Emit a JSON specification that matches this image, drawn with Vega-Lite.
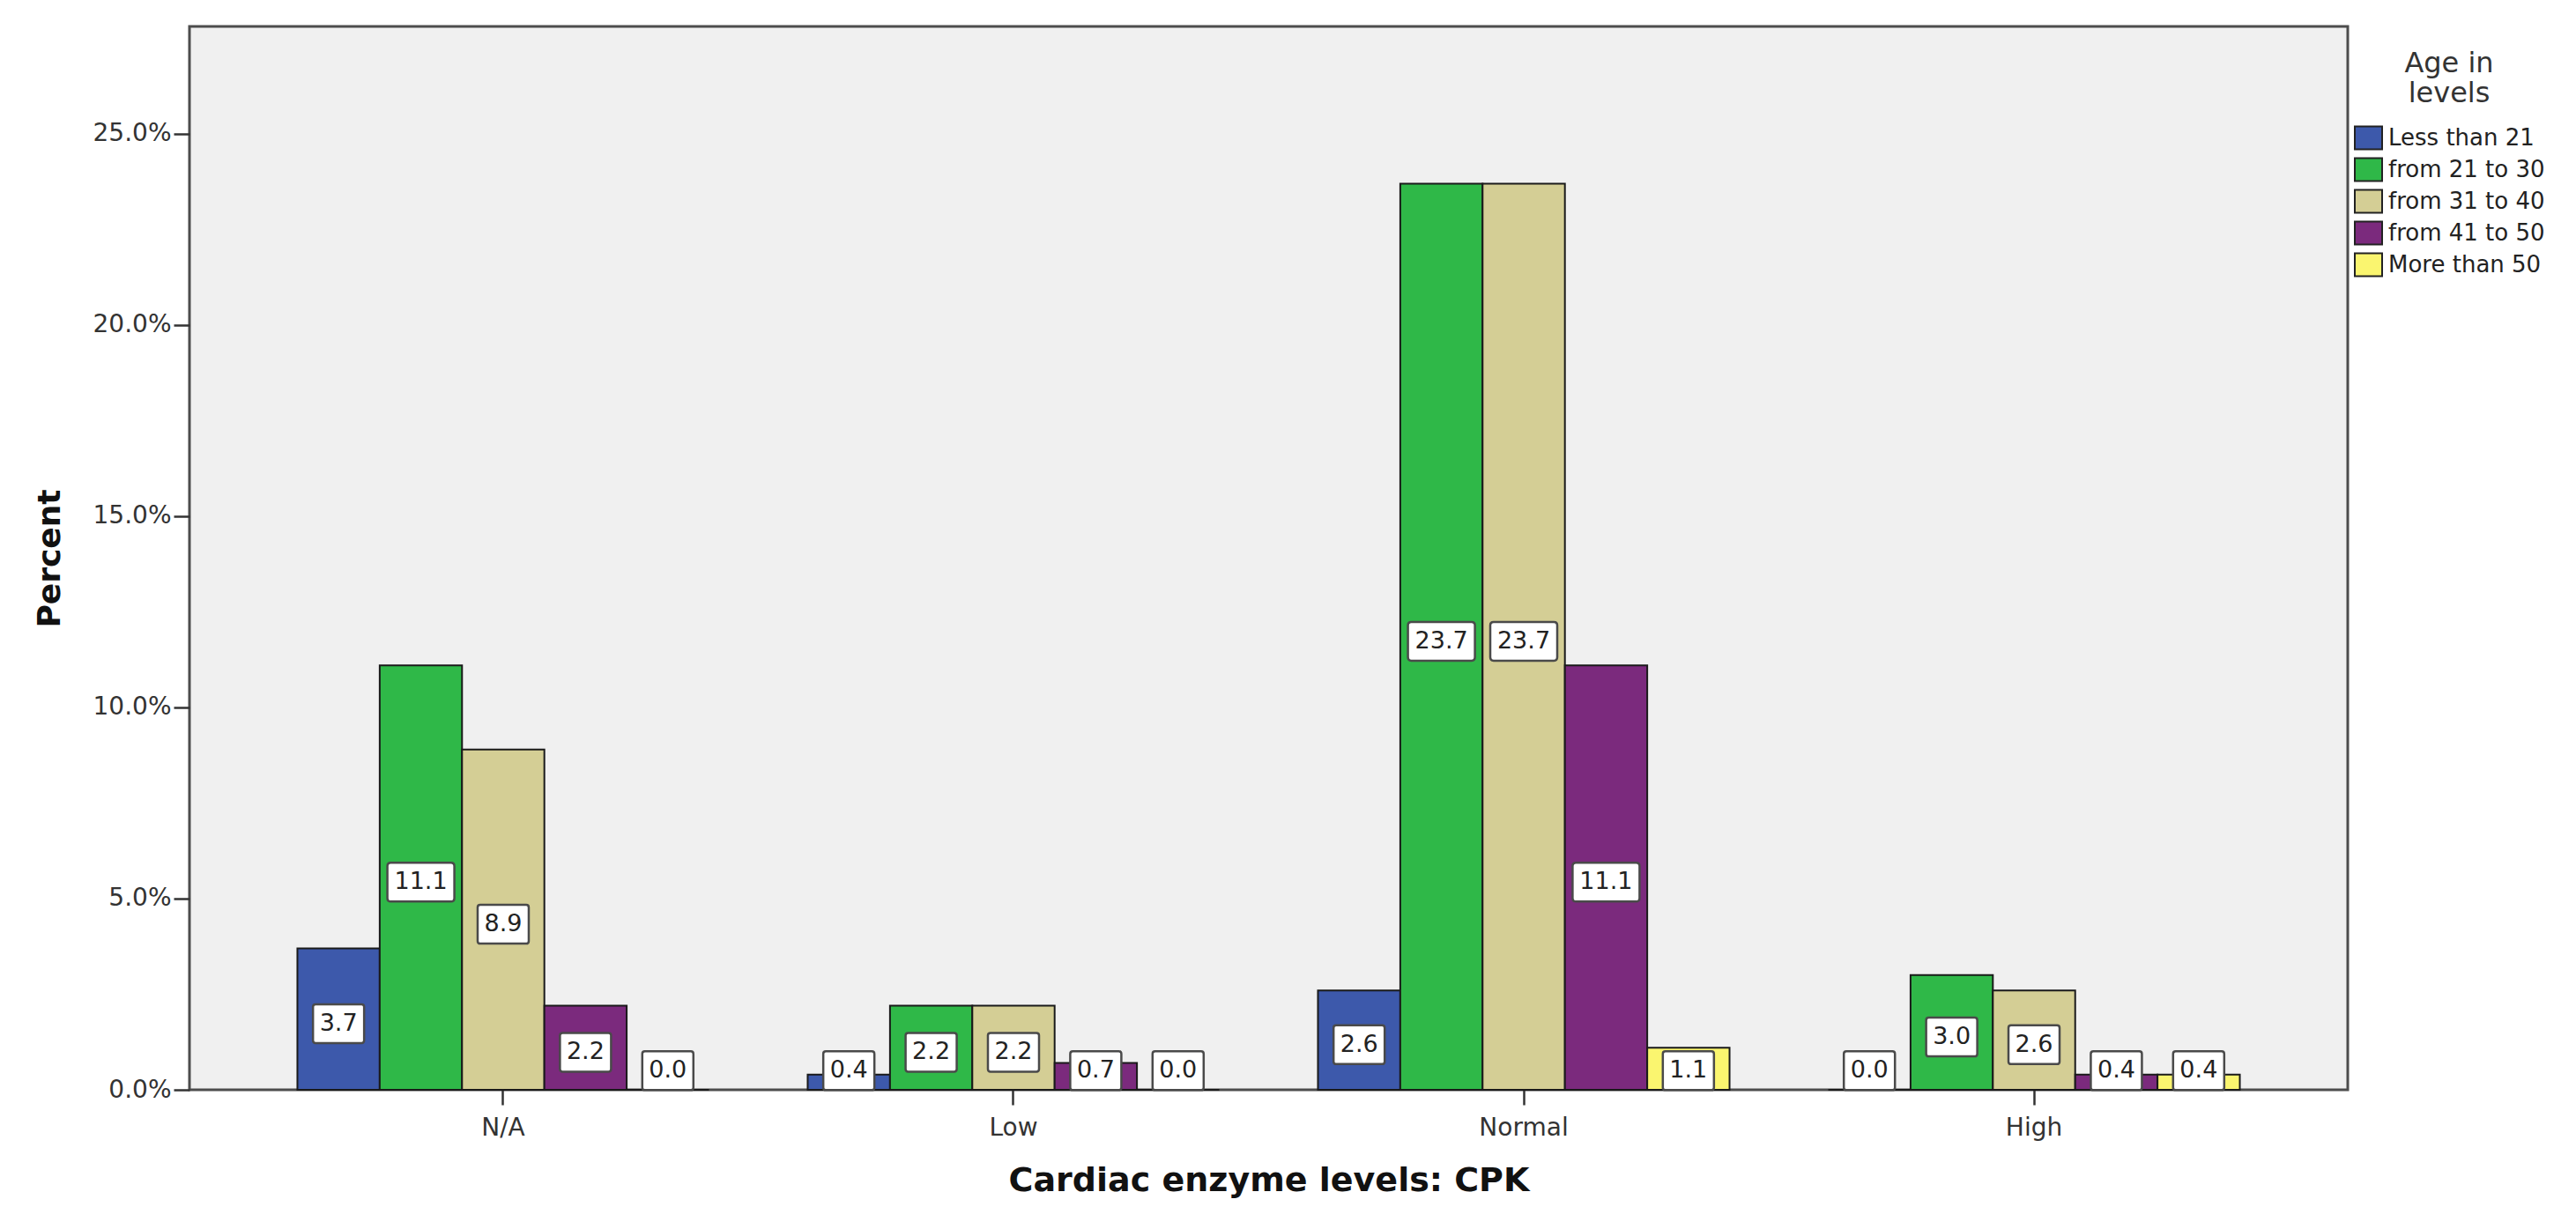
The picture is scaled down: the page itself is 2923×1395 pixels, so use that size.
{
  "$schema": "https://vega.github.io/schema/vega-lite/v6.json",
  "width": 2449,
  "height": 1207,
  "autosize": {"type": "none"},
  "padding": {"left": 215, "top": 30, "right": 259, "bottom": 158},
  "background": "white",
  "data": {
    "values": [
      {"cpk": "N/A", "age": "Less than 21", "pct": 3.7},
      {"cpk": "N/A", "age": "from 21 to 30", "pct": 11.1},
      {"cpk": "N/A", "age": "from 31 to 40", "pct": 8.9},
      {"cpk": "N/A", "age": "from 41 to 50", "pct": 2.2},
      {"cpk": "N/A", "age": "More than 50", "pct": 0.0},
      {"cpk": "Low", "age": "Less than 21", "pct": 0.4},
      {"cpk": "Low", "age": "from 21 to 30", "pct": 2.2},
      {"cpk": "Low", "age": "from 31 to 40", "pct": 2.2},
      {"cpk": "Low", "age": "from 41 to 50", "pct": 0.7},
      {"cpk": "Low", "age": "More than 50", "pct": 0.0},
      {"cpk": "Normal", "age": "Less than 21", "pct": 2.6},
      {"cpk": "Normal", "age": "from 21 to 30", "pct": 23.7},
      {"cpk": "Normal", "age": "from 31 to 40", "pct": 23.7},
      {"cpk": "Normal", "age": "from 41 to 50", "pct": 11.1},
      {"cpk": "Normal", "age": "More than 50", "pct": 1.1},
      {"cpk": "High", "age": "Less than 21", "pct": 0.0},
      {"cpk": "High", "age": "from 21 to 30", "pct": 3.0},
      {"cpk": "High", "age": "from 31 to 40", "pct": 2.6},
      {"cpk": "High", "age": "from 41 to 50", "pct": 0.4},
      {"cpk": "High", "age": "More than 50", "pct": 0.4}
    ]
  },
  "transform": [
    {"calculate": "max(datum.pct / 2 - 0.12, 0.5)", "as": "labelPos"}
  ],
  "encoding": {
    "x": {
      "field": "cpk",
      "type": "nominal",
      "sort": ["N/A", "Low", "Normal", "High"],
      "scale": {"paddingInner": 0.1934, "paddingOuter": 0.2115},
      "axis": {
        "title": "Cardiac enzyme levels: CPK",
        "titleFontSize": 38,
        "titlePadding": 27,
        "labelAngle": 0,
        "labelFontSize": 28,
        "labelPadding": 12,
        "tickSize": 17,
        "bandPosition": 0.5
      }
    },
    "xOffset": {
      "field": "age",
      "type": "nominal",
      "sort": ["Less than 21", "from 21 to 30", "from 31 to 40", "from 41 to 50", "More than 50"],
      "scale": {"paddingInner": 0, "paddingOuter": 0}
    }
  },
  "layer": [
    {
      "mark": {"type": "bar", "stroke": "#1a1a1a", "strokeWidth": 2},
      "encoding": {
        "y": {
          "field": "pct",
          "type": "quantitative",
          "scale": {"domain": [0, 27.81], "nice": false, "zero": true},
          "axis": {
            "title": "Percent",
            "titleFontSize": 36,
            "titlePadding": 30,
            "values": [0, 5, 10, 15, 20, 25],
            "labelExpr": "format(datum.value, '.1f') + '%'",
            "labelFontSize": 28,
            "labelPadding": 3,
            "tickSize": 18
          }
        },
        "color": {
          "field": "age",
          "type": "nominal",
          "scale": {
            "domain": ["Less than 21", "from 21 to 30", "from 31 to 40", "from 41 to 50", "More than 50"],
            "range": ["#3d59ab", "#2fb848", "#d4ce95", "#7b2a7d", "#faf56f"]
          },
          "legend": {
            "orient": "none",
            "legendX": 2456,
            "legendY": 27,
            "title": ["Age in", "levels"],
            "titleFontSize": 32,
            "titleFontWeight": "normal",
            "titleColor": "#333333",
            "titleAlign": "center",
            "titleAnchor": "middle",
            "titleLineHeight": 34,
            "titlePadding": 17,
            "titleLimit": 0,
            "labelFontSize": 26,
            "labelLimit": 0,
            "labelColor": "#222222",
            "labelOffset": 6,
            "symbolType": "M-1,-0.84H1V0.84H-1Z",
            "symbolSize": 961,
            "symbolStrokeColor": "#222222",
            "symbolStrokeWidth": 2,
            "rowPadding": 1,
            "padding": 0
          }
        }
      }
    },
    {
      "mark": {"type": "point", "filled": true, "fill": "white", "stroke": "#4a4a4a", "strokeWidth": 2.5, "opacity": 1},
      "encoding": {
        "y": {
          "field": "labelPos",
          "type": "quantitative",
          "scale": {"domain": [0, 27.81], "nice": false}
        },
        "shape": {
          "condition": {
            "test": "datum.pct >= 10",
            "value": "M-0.9,-0.579H0.9Q1,-0.579 1,-0.479V0.479Q1,0.579 0.9,0.579H-0.9Q-1,0.579 -1,0.479V-0.479Q-1,-0.579 -0.9,-0.579Z"
          },
          "value": "M-0.9,-0.759H0.9Q1,-0.759 1,-0.659V0.659Q1,0.759 0.9,0.759H-0.9Q-1,0.759 -1,0.659V-0.659Q-1,-0.759 -0.9,-0.759Z"
        },
        "size": {"condition": {"test": "datum.pct >= 10", "value": 5776}, "value": 3364}
      }
    },
    {
      "mark": {"type": "text", "font": "DejaVu Sans", "fontSize": 27, "color": "#222222", "baseline": "middle"},
      "encoding": {
        "y": {
          "field": "labelPos",
          "type": "quantitative",
          "scale": {"domain": [0, 27.81], "nice": false}
        },
        "text": {"field": "pct", "type": "quantitative", "format": ".1f"}
      }
    }
  ],
  "config": {
    "font": "DejaVu Sans",
    "view": {"fill": "#f0f0f0", "stroke": "#4d4d4d", "strokeWidth": 3},
    "axis": {
      "grid": false,
      "domain": false,
      "labelFont": "DejaVu Sans",
      "labelColor": "#333333",
      "tickColor": "#333333",
      "tickWidth": 2.5,
      "titleFont": "DejaVu Sans",
      "titleFontWeight": "bold",
      "titleColor": "#111111"
    },
    "legend": {"labelFont": "DejaVu Sans", "titleFont": "DejaVu Sans"}
  }
}
